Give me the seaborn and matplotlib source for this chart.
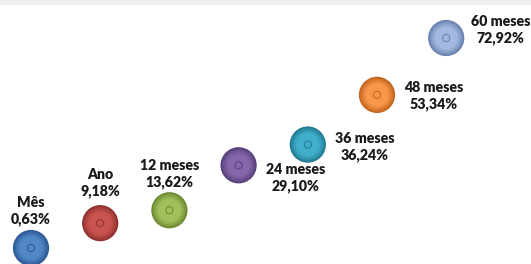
import matplotlib
matplotlib.use("Agg")
import matplotlib.pyplot as plt
import matplotlib.colors as mcolors
import numpy as np
import seaborn as sns
import pandas as pd
from matplotlib.patches import Rectangle

# rentabilidade acumulada por periodo
categorias = ["Mês", "Ano", "12 meses", "24 meses", "36 meses", "48 meses", "60 meses"]
rentab = [0.63, 9.18, 13.62, 29.10, 36.24, 53.34, 72.92]
cores = ["#5287c6", "#c9534f", "#a1c05c", "#8566a8", "#41afcb", "#f7974a", "#a2b8e0"]
cores_escuras = ["#2c5893", "#8f302d", "#6a8730", "#553e7a", "#1f7790", "#c0621c", "#677fae"]

df = pd.DataFrame({"periodo": categorias, "rentab": rentab, "pos": range(len(categorias))})

sns.set_style("white")
plt.rcParams["font.family"] = ["Lato", "DejaVu Sans"]

fig = plt.figure(figsize=(5.31, 2.64), dpi=100)
ax = fig.add_axes([0, 0, 1, 1])

# faixa cinza do titulo (cortado no topo)
fig.patches.append(Rectangle((0, 1 - 5 / 264), 1, 5 / 264, transform=fig.transFigure,
                             facecolor="#f0f0f0", edgecolor="none", zorder=0))
fig.text(0.5, 1 - 3.5 / 264, "Rentabilidade acumulada", ha="center", va="bottom",
         fontsize=12, color="#8a8a8a", fontweight="bold")

# bolhas com degrade radial (escuro na borda, claro no centro)
tamanhos = np.linspace(680, 260, 8)
for k, s in enumerate(tamanhos):
    t = k / (len(tamanhos) - 1)
    pal = [tuple((1 - t) * np.array(mcolors.to_rgb(d)) + t * np.array(mcolors.to_rgb(c)))
           for d, c in zip(cores_escuras, cores)]
    sns.scatterplot(data=df, x="pos", y="rentab", hue="periodo", palette=pal,
                    s=s, legend=False, edgecolor="none", ax=ax, zorder=3 + k)
sns.scatterplot(data=df, x="pos", y="rentab", s=26, facecolor="none",
                edgecolor=cores_escuras, linewidth=0.7, legend=False, ax=ax, zorder=20)

# rotulos: acima para os tres primeiros, a direita para os demais
offsets = [(0, 16), (0, 18), (0, 15), (41, -9), (41, -2), (41, -1), (39, 6)]
for i, (cat, v) in enumerate(zip(categorias, rentab)):
    txt = f"{cat}\n{v:.2f}".replace(".", ",") + "%"
    dx, dy = offsets[i]
    va = "bottom" if dx == 0 else "center"
    ax.annotate(txt, (i, v), xytext=(dx, dy), textcoords="offset points",
                ha="center", va=va, fontsize=10.2, fontweight="heavy",
                color="#1a1a1a", linespacing=1.3, zorder=30)

ax.set_xlim(-31 / 69.2, 500 / 69.2)
ax.set_ylim(0.63 - 16 / 2.905, 0.63 + 248 / 2.905)
ax.axis("off")

fig.savefig("out.png", dpi=100)
